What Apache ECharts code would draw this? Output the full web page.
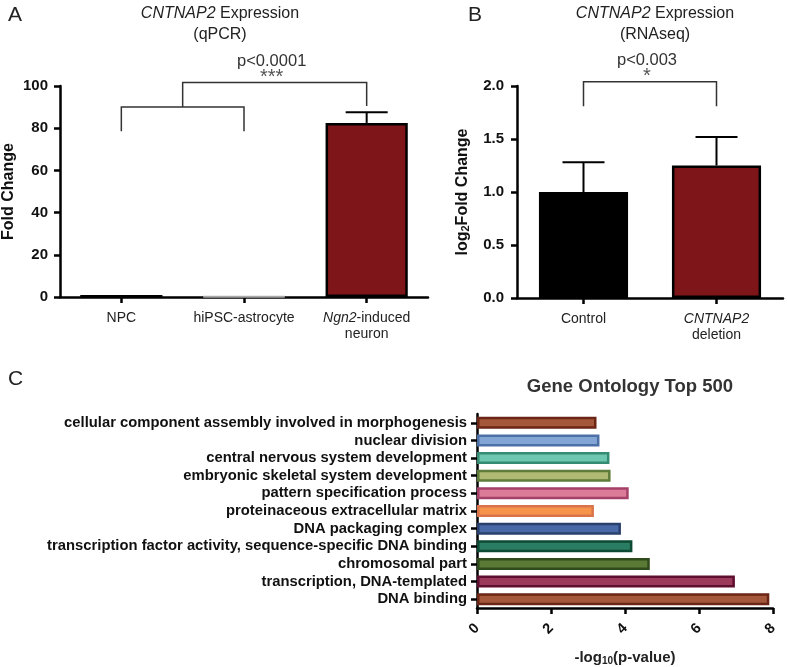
<!DOCTYPE html>
<html>
<head>
<meta charset="utf-8">
<script src="https://cdn.jsdelivr.net/npm/echarts@6/dist/echarts.min.js"></script>
<style>
html, body { margin: 0; width: 100%; height: 100%; background: #fff; }
#main { width: 787px; height: 667px; }
</style>
</head>
<body>
<div id="main"></div>
<script>
// panel A - qPCR
var catsA = ['NPC', 'hiPSC-astrocyte', '{i|Ngn2}-induced\nneuron'];
var valsA = [1.0, 0.3, 82.5];
var errA = [0, 0, 5.1];
// brackets: [from, to, top, leftLegEnd, rightLegEnd]
var bracketsA = [[0, 1, 90, 78.5, 78.5], [0.5, 2, 101.7, 90, 90.5]];
var pTextA = ['', 'p<0.0001'];
var starsA = ['', '***'];

// panel B - RNAseq
var catsB = ['Control', '{i|CNTNAP2}\ndeletion'];
var valsB = [1.0, 1.25];
var errB = [0.28, 0.27];
var bracketsB = [[0, 1, 2.04, 1.81, 1.81]];
var pTextB = ['p<0.003'];
var starsB = ['*'];

// panel C - gene ontology
var goTerms = [
    'cellular component assembly involved in morphogenesis',
    'nuclear division',
    'central nervous system development',
    'embryonic skeletal system development',
    'pattern specification process',
    'proteinaceous extracellular matrix',
    'DNA packaging complex',
    'transcription factor activity, sequence-specific DNA binding',
    'chromosomal part',
    'transcription, DNA-templated',
    'DNA binding'
];
var goVals = [3.23, 3.31, 3.58, 3.61, 4.10, 3.16, 3.89, 4.20, 4.67, 6.97, 7.90];
var goFill = ['#a5573b', '#82a5d5', '#6ec8b1', '#b1ba72', '#dc7b98', '#f6944c', '#4869a6', '#2a7c62', '#5b7a36', '#9c3a5c', '#a5573b'];
var goEdge = ['#6b2616', '#4d6fa8', '#368c72', '#5f7b3a', '#a54069', '#d9744a', '#29406d', '#0c4a33', '#2f4a1b', '#5e0e2f', '#6b2616'];

var FONT = '"Liberation Sans", Arial, sans-serif';
var RED = '#7e1619';

function axisLineStyle() {
    return { show: true, lineStyle: { color: '#000', width: 2.5 } };
}
function axisTickStyle() {
    return { show: true, length: 6, lineStyle: { color: '#000', width: 2.5 } };
}

function errorRender(params, api) {
    var x = api.value(0), v = api.value(1), e = api.value(2);
    if (!e) return;
    var p0 = api.coord([x, v]);
    var p1 = api.coord([x, v + e]);
    var half = 21;
    return {
        type: 'group',
        children: [
            { type: 'line', shape: { x1: p0[0], y1: p0[1], x2: p1[0], y2: p1[1] }, style: { stroke: '#000', lineWidth: 2 } },
            { type: 'line', shape: { x1: p1[0] - half, y1: p1[1], x2: p1[0] + half, y2: p1[1] }, style: { stroke: '#000', lineWidth: 2 } }
        ]
    };
}

function catX(api, c) {
    var a = Math.floor(c), b = Math.ceil(c);
    var pa = api.coord([a, 0])[0];
    var pb = api.coord([b, 0])[0];
    return pa + (pb - pa) * (c - a);
}

function makeBracketRender(brackets, pTexts, stars) {
    return function (params, api) {
        var b = brackets[params.dataIndex];
        var x1 = catX(api, b[0]), x2 = catX(api, b[1]);
        var yTop = api.coord([0, b[2]])[1];
        var yL = api.coord([0, b[3]])[1];
        var yR = api.coord([0, b[4]])[1];
        var mid = (x1 + x2) / 2;
        var ch = [{
            type: 'polyline',
            shape: { points: [[x1, yL], [x1, yTop], [x2, yTop], [x2, yR]] },
            style: { stroke: '#333', lineWidth: 1.5, fill: null }
        }];
        if (pTexts[params.dataIndex]) {
            ch.push({ type: 'text', x: mid - 3, y: yTop - 21, style: { text: pTexts[params.dataIndex], font: '16.5px ' + FONT, fill: '#333', align: 'center', verticalAlign: 'middle' } });
            ch.push({ type: 'text', x: mid - 3, y: yTop - 5, style: { text: stars[params.dataIndex], font: '20px ' + FONT, fill: '#555', align: 'center', verticalAlign: 'middle' } });
        }
        return { type: 'group', children: ch };
    };
}

var chart = echarts.init(document.getElementById('main'));
var option = {
    animation: false,
    backgroundColor: '#fff',
    textStyle: { fontFamily: FONT },
    title: [
        { text: 'A', left: 3, top: 0, textStyle: { fontSize: 21, fontWeight: 'normal', color: '#222', fontFamily: FONT } },
        { text: 'B', left: 463, top: 0, textStyle: { fontSize: 21, fontWeight: 'normal', color: '#222', fontFamily: FONT } },
        { text: 'C', left: 3, top: 364, textStyle: { fontSize: 21, fontWeight: 'normal', color: '#222', fontFamily: FONT } },
        {
            text: '{i|CNTNAP2} Expression\n(qPCR)', left: 215, top: -2, textAlign: 'center',
            textStyle: { fontSize: 16, fontWeight: 'normal', color: '#222', lineHeight: 21, fontFamily: FONT,
                rich: { i: { fontStyle: 'italic', fontSize: 16, color: '#222', fontFamily: FONT } } }
        },
        {
            text: '{i|CNTNAP2} Expression\n(RNAseq)', left: 650, top: -2, textAlign: 'center',
            textStyle: { fontSize: 16, fontWeight: 'normal', color: '#222', lineHeight: 21, fontFamily: FONT,
                rich: { i: { fontStyle: 'italic', fontSize: 16, color: '#222', fontFamily: FONT } } }
        },
        {
            text: 'Gene Ontology Top 500', left: 625, top: 372, textAlign: 'center',
            textStyle: { fontSize: 18.5, fontWeight: 'bold', color: '#333', fontFamily: FONT }
        }
    ],
    grid: [
        { left: 59, top: 86, width: 369, height: 211 },
        { left: 517, top: 86, width: 266, height: 212 },
        { left: 477, top: 414, width: 296, height: 198 }
    ],
    xAxis: [
        {
            gridIndex: 0, type: 'category', data: catsA,
            axisLine: axisLineStyle(), axisTick: { show: true, alignWithLabel: true, length: 6, lineStyle: { color: '#000', width: 2.5 } },
            axisLabel: { interval: 0, fontSize: 14, color: '#222', margin: 13, lineHeight: 16, fontFamily: FONT,
                rich: { i: { fontStyle: 'italic', fontSize: 14, color: '#222', fontFamily: FONT } } }
        },
        {
            gridIndex: 1, type: 'category', data: catsB,
            axisLine: axisLineStyle(), axisTick: { show: true, alignWithLabel: true, length: 6, lineStyle: { color: '#000', width: 2.5 } },
            axisLabel: { interval: 0, fontSize: 14, color: '#222', margin: 13, lineHeight: 16, fontFamily: FONT,
                rich: { i: { fontStyle: 'italic', fontSize: 14, color: '#222', fontFamily: FONT } } }
        },
        {
            gridIndex: 2, type: 'value', min: 0, max: 8, interval: 2,
            splitLine: { show: false },
            axisLine: axisLineStyle(), axisTick: axisTickStyle(),
            axisLabel: { rotate: 45, fontSize: 14.5, fontWeight: 'bold', color: '#111', margin: 18, fontFamily: FONT },
            name: '-log{s|10}(p-value)', nameLocation: 'middle', nameGap: 42,
            nameTextStyle: { fontSize: 15, fontWeight: 'bold', color: '#222', fontFamily: FONT,
                rich: { s: { fontSize: 10, fontWeight: 'bold', verticalAlign: 'bottom', padding: [6, 0, 0, 0], color: '#222', fontFamily: FONT } } }
        }
    ],
    yAxis: [
        {
            gridIndex: 0, type: 'value', min: 0, max: 100, interval: 20,
            splitLine: { show: false },
            axisLine: axisLineStyle(), axisTick: axisTickStyle(),
            axisLabel: { fontSize: 15, fontWeight: 'bold', color: '#111', margin: 12, fontFamily: FONT },
            name: 'Fold Change', nameLocation: 'middle', nameGap: 43,
            nameTextStyle: { fontSize: 16, fontWeight: 'bold', color: '#111', fontFamily: FONT }
        },
        {
            gridIndex: 1, type: 'value', min: 0, max: 2, interval: 0.5,
            splitLine: { show: false },
            axisLine: axisLineStyle(), axisTick: axisTickStyle(),
            axisLabel: { fontSize: 15, fontWeight: 'bold', color: '#111', margin: 13, fontFamily: FONT,
                formatter: function (v) { return v.toFixed(1); } },
            name: 'log{s|2}Fold Change', nameLocation: 'middle', nameGap: 46,
            nameTextStyle: { fontSize: 16, fontWeight: 'bold', color: '#111', fontFamily: FONT,
                rich: { s: { fontSize: 11, fontWeight: 'bold', verticalAlign: 'bottom', padding: [6, 0, 0, 0], color: '#111', fontFamily: FONT } } }
        },
        {
            gridIndex: 2, type: 'category', data: goTerms, inverse: true,
            axisLine: axisLineStyle(),
            axisTick: { show: true, alignWithLabel: true, length: 6, lineStyle: { color: '#000', width: 2.5 } },
            axisLabel: { interval: 0, fontSize: 14.8, fontWeight: 'bold', color: '#111', margin: 10, fontFamily: FONT }
        }
    ],
    series: [
        {
            type: 'bar', xAxisIndex: 0, yAxisIndex: 0, barWidth: '67%',
            data: valsA.map(function (v, i) {
                var st = [
                    { color: '#000', borderColor: '#000', borderWidth: 2 },
                    { color: '#fff', borderColor: '#aaa', borderWidth: 2 },
                    { color: RED, borderColor: '#000', borderWidth: 2.5 }
                ][i];
                return { value: v, itemStyle: st };
            })
        },
        {
            type: 'custom', xAxisIndex: 0, yAxisIndex: 0, z: 3,
            renderItem: errorRender,
            data: valsA.map(function (v, i) { return [i, v, errA[i]]; })
        },
        {
            type: 'custom', xAxisIndex: 0, yAxisIndex: 0, z: 3,
            renderItem: makeBracketRender(bracketsA, pTextA, starsA),
            data: bracketsA.map(function (b) { return [b[0], b[2]]; })
        },
        {
            type: 'bar', xAxisIndex: 1, yAxisIndex: 1, barWidth: '67%',
            data: valsB.map(function (v, i) {
                return { value: v, itemStyle: { color: i === 0 ? '#000' : RED, borderColor: '#000', borderWidth: 2.5 } };
            })
        },
        {
            type: 'custom', xAxisIndex: 1, yAxisIndex: 1, z: 3,
            renderItem: errorRender,
            data: valsB.map(function (v, i) { return [i, v, errB[i]]; })
        },
        {
            type: 'custom', xAxisIndex: 1, yAxisIndex: 1, z: 3,
            renderItem: makeBracketRender(bracketsB, pTextB, starsB),
            data: bracketsB.map(function (b) { return [b[0], b[2]]; })
        },
        {
            type: 'bar', xAxisIndex: 2, yAxisIndex: 2, barWidth: 12,
            data: goVals.map(function (v, i) {
                return { value: v, itemStyle: { color: goFill[i], borderColor: goEdge[i], borderWidth: 2.5 } };
            })
        }
    ]
};
chart.setOption(option);
</script>
</body>
</html>
